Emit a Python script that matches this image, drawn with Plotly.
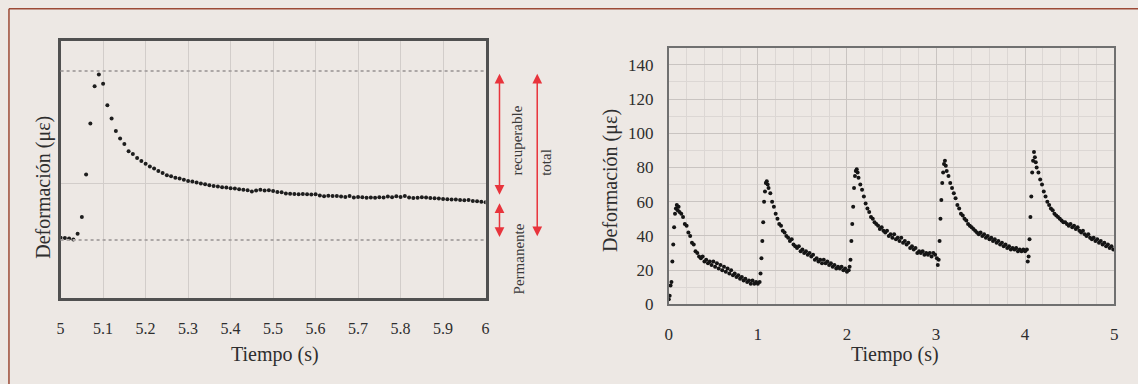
import plotly.graph_objects as go

# ---------------- Left chart data (zoom on one load cycle) ----------------
left_time = [5.00, 5.01, 5.02, 5.03, 5.04, 5.05, 5.06, 5.07, 5.08, 5.09,
             5.10, 5.11, 5.12, 5.13, 5.14, 5.15, 5.16, 5.17, 5.18, 5.19,
             5.20, 5.21, 5.22, 5.23, 5.24, 5.25, 5.26, 5.27, 5.28, 5.29,
             5.30, 5.31, 5.32, 5.33, 5.34, 5.35, 5.36, 5.37, 5.38, 5.39,
             5.40, 5.41, 5.42, 5.43, 5.44, 5.45, 5.46, 5.47, 5.48, 5.49,
             5.50, 5.51, 5.52, 5.53, 5.54, 5.55, 5.56, 5.57, 5.58, 5.59,
             5.60, 5.61, 5.62, 5.63, 5.64, 5.65, 5.66, 5.67, 5.68, 5.69,
             5.70, 5.71, 5.72, 5.73, 5.74, 5.75, 5.76, 5.77, 5.78, 5.79,
             5.80, 5.81, 5.82, 5.83, 5.84, 5.85, 5.86, 5.87, 5.88, 5.89,
             5.90, 5.91, 5.92, 5.93, 5.94, 5.95, 5.96, 5.97, 5.98, 5.99, 6.00]
left_strain = [21.1, 21.0, 20.8, 20.5, 22.5, 28.4, 43.2, 61.1, 74.1, 78.2,
               75.0, 67.5, 62.8, 58.5, 55.8, 53.9, 51.4, 50.4, 49.0, 48.0,
               47.0, 46.0, 45.3, 44.5, 43.8, 43.0, 42.6, 42.1, 41.8, 41.4,
               41.0, 40.8, 40.4, 40.1, 39.8, 39.5, 39.2, 39.0, 38.8, 38.7,
               38.4, 38.3, 38.1, 37.9, 37.7, 37.3, 37.6, 37.9, 37.6, 37.7,
               37.5, 37.1, 37.0, 36.6, 36.5, 36.4, 36.3, 36.4, 36.3, 36.2,
               36.3, 35.9, 35.6, 35.8, 35.7, 35.7, 35.5, 35.4, 35.7, 35.2,
               35.4, 35.3, 35.1, 35.2, 35.1, 35.3, 35.2, 35.5, 35.3, 35.6,
               35.4, 35.7, 35.2, 35.0, 35.1, 35.3, 35.2, 35.0, 34.9, 34.8,
               34.7, 34.6, 34.5, 34.5, 34.3, 34.2, 34.3, 34.0, 33.9, 33.7, 33.5]
left_xticks = [5.0, 5.1, 5.2, 5.3, 5.4, 5.5, 5.6, 5.7, 5.8, 5.9, 6.0]
left_xticklabels = ["5", "5.1", "5.2", "5.3", "5.4", "5.5", "5.6", "5.7", "5.8", "5.9", "6"]

# reference levels (left chart)
peak_level = 79.5
permanent_level = 20.3
arrow_top = 78.5
arrow_bottom = 20.8
recoverable_end = 35.6
permanent_top = 33.2
total_bottom = 21.1

# ---------------- Right chart data (five load cycles) ----------------
c1_t = [0.00, 0.01, 0.02, 0.03, 0.04, 0.05, 0.06, 0.07, 0.08, 0.09, 0.10, 0.11, 0.12,
        0.14, 0.16, 0.18, 0.20, 0.22, 0.24, 0.26, 0.28, 0.30, 0.32, 0.34, 0.36, 0.38,
        0.40, 0.42, 0.44, 0.46, 0.48, 0.50, 0.52, 0.54, 0.56, 0.58, 0.60, 0.62, 0.64,
        0.66, 0.68, 0.70, 0.72, 0.74, 0.76, 0.78, 0.80, 0.82, 0.84, 0.86, 0.88, 0.90,
        0.92, 0.94, 0.96, 0.98, 1.00]
c1_v = [3, 5, 11, 13, 25, 35, 45, 53, 56, 58, 55, 57, 54,
        53, 51, 47, 46, 42, 40, 36, 35, 31, 30, 28, 27, 28,
        25, 26, 24, 25, 23, 25, 22, 24, 21, 23, 20, 22, 19,
        21, 18, 20, 17, 18, 16, 17, 15, 16, 14, 15, 13, 14,
        12, 14, 12, 13, 12]

c2_t = [1.02, 1.03, 1.04, 1.05, 1.06, 1.07, 1.08, 1.09, 1.10, 1.11, 1.12,
        1.14, 1.16, 1.18, 1.20, 1.22, 1.24, 1.26, 1.28, 1.30, 1.32, 1.34, 1.36,
        1.38, 1.40, 1.42, 1.44, 1.46, 1.48, 1.50, 1.52, 1.54, 1.56, 1.58, 1.60,
        1.62, 1.64, 1.66, 1.68, 1.70, 1.72, 1.74, 1.76, 1.78, 1.80, 1.82, 1.84,
        1.86, 1.88, 1.90, 1.92, 1.94, 1.96, 1.98, 2.00, 2.02]
c2_v = [13, 18, 27, 37, 48, 60, 66, 71, 72, 70, 68,
        65, 60, 57, 53, 50, 47, 46, 43, 42, 40, 39, 37,
        38, 35, 34, 33, 34, 31, 32, 30, 31, 29, 30, 28,
        29, 26, 27, 25, 26, 24, 26, 24, 25, 23, 24, 22,
        23, 21, 22, 21, 22, 20, 21, 19, 20]

c3_t = [2.03, 2.04, 2.05, 2.06, 2.07, 2.08, 2.09, 2.10, 2.11, 2.12, 2.13,
        2.15, 2.17, 2.19, 2.21, 2.23, 2.25, 2.27, 2.29, 2.31, 2.33, 2.35, 2.37,
        2.39, 2.41, 2.43, 2.45, 2.47, 2.49, 2.51, 2.53, 2.55, 2.57, 2.59, 2.61,
        2.63, 2.65, 2.67, 2.69, 2.71, 2.73, 2.75, 2.77, 2.79, 2.81, 2.83, 2.85,
        2.87, 2.89, 2.91, 2.93, 2.95, 2.97, 2.99, 3.01]
c3_v = [22, 26, 37, 47, 57, 68, 75, 78, 79, 77, 74,
        70, 67, 63, 59, 56, 54, 51, 50, 48, 47, 46, 44,
        45, 43, 42, 43, 40, 41, 39, 41, 38, 39, 37, 39,
        36, 37, 35, 36, 33, 34, 32, 33, 30, 31, 30, 31,
        29, 30, 29, 30, 28, 30, 29, 27]

c4_t = [3.02, 3.03, 3.04, 3.05, 3.06, 3.07, 3.08, 3.09, 3.10, 3.11, 3.12,
        3.14, 3.16, 3.18, 3.20, 3.22, 3.24, 3.26, 3.28, 3.30, 3.32, 3.34, 3.36,
        3.38, 3.40, 3.42, 3.44, 3.46, 3.48, 3.50, 3.52, 3.54, 3.56, 3.58, 3.60,
        3.62, 3.64, 3.66, 3.68, 3.70, 3.72, 3.74, 3.76, 3.78, 3.80, 3.82, 3.84,
        3.86, 3.88, 3.90, 3.92, 3.94, 3.96, 3.98, 4.00, 4.02]
c4_v = [23, 26, 37, 50, 61, 71, 77, 82, 84, 81, 78,
        75, 71, 68, 65, 62, 58, 56, 53, 52, 50, 49, 47,
        46, 45, 44, 43, 42, 41, 42, 40, 41, 39, 40, 38,
        39, 37, 38, 36, 37, 35, 36, 34, 35, 33, 34, 32,
        33, 32, 33, 31, 32, 31, 32, 31, 32]

c5_t = [4.03, 4.04, 4.05, 4.06, 4.07, 4.08, 4.09, 4.10, 4.11, 4.12, 4.13,
        4.15, 4.17, 4.19, 4.21, 4.23, 4.25, 4.27, 4.29, 4.31, 4.33, 4.35, 4.37,
        4.39, 4.41, 4.43, 4.45, 4.47, 4.49, 4.51, 4.53, 4.55, 4.57, 4.59, 4.61,
        4.63, 4.65, 4.67, 4.69, 4.71, 4.73, 4.75, 4.77, 4.79, 4.81, 4.83, 4.85,
        4.87, 4.89, 4.91, 4.93, 4.95, 4.97, 4.99]
c5_v = [25, 28, 38, 51, 63, 77, 84, 89, 86, 83, 80,
        77, 73, 70, 66, 63, 60, 58, 56, 55, 53, 52, 51,
        50, 49, 48, 48, 47, 46, 47, 45, 46, 44, 45, 43,
        42, 43, 41, 40, 41, 39, 38, 39, 37, 38, 36, 37,
        35, 36, 34, 35, 33, 34, 32]

right_xticks = [0, 1, 2, 3, 4, 5]
right_yticks = [0, 20, 40, 60, 80, 100, 120, 140]

# ---------------- Figure ----------------
W, H = 1138, 384
BG = "#ede8e4"
SERIF = "Liberation Serif"
TXT = "#2e2e2e"
RED = "#e8343c"


def px(x):
    return x / W


def py(y):
    return 1 - y / H


right_t = c1_t + c2_t + c3_t + c4_t + c5_t
right_v = c1_v + c2_v + c3_v + c4_v + c5_v

fig = go.Figure()
fig.add_trace(go.Scatter(x=left_time, y=left_strain, mode="markers",
                         marker=dict(size=4, color="#1e1e1e"),
                         xaxis="x", yaxis="y", showlegend=False))
fig.add_trace(go.Scatter(x=right_t, y=right_v, mode="markers",
                         marker=dict(size=4, color="#151515"),
                         xaxis="x2", yaxis="y2", showlegend=False))

fig.update_layout(
    width=W, height=H,
    margin=dict(l=0, r=0, t=0, b=0),
    paper_bgcolor=BG, plot_bgcolor=BG,
    font=dict(family=SERIF, color=TXT),
    xaxis=dict(domain=[px(57), px(485)], range=[5, 6], tickvals=left_xticks,
               ticktext=left_xticklabels, showgrid=True, gridcolor="#d2cdca", gridwidth=1,
               showline=True, mirror=True, linecolor="#505050", linewidth=2.5,
               zeroline=False, ticks="", ticklabelstandoff=14,
               tickfont=dict(family=SERIF, size=16, color=TXT), anchor="y"),
    yaxis=dict(domain=[py(306), py(42)], range=[0, 90], tickvals=[40],
               showticklabels=False, showgrid=True, gridcolor="#d2cdca", gridwidth=1,
               showline=True, mirror=True, linecolor="#505050", linewidth=2.5,
               zeroline=False, ticks="", anchor="x"),
    xaxis2=dict(domain=[px(669.5), px(1118)], range=[0, 5], tickvals=right_xticks,
                showgrid=True, gridcolor="#c9c4c1", gridwidth=1,
                minor=dict(dtick=0.2, showgrid=True, gridcolor="#dcd7d4", gridwidth=1),
                showline=True, mirror=True, linecolor="#707070", linewidth=2,
                zeroline=False, ticks="", ticklabelstandoff=13,
                tickfont=dict(family=SERIF, size=17, color=TXT), anchor="y2"),
    yaxis2=dict(domain=[py(312.5), py(49)], range=[0, 150], tickvals=right_yticks,
                showgrid=True, gridcolor="#c9c4c1", gridwidth=1,
                minor=dict(dtick=10, showgrid=True, gridcolor="#dcd7d4", gridwidth=1),
                showline=True, mirror=True, linecolor="#707070", linewidth=2,
                zeroline=False, ticks="", ticklabelstandoff=10,
                tickfont=dict(family=SERIF, size=17, color=TXT), anchor="x2"),
)

# dotted reference lines on the left chart
for lvl in (peak_level, permanent_level):
    fig.add_shape(type="line", xref="x domain", yref="y", x0=0, x1=1, y0=lvl, y1=lvl,
                  line=dict(color="#aca7a6", width=2, dash="dot"))

# outer brown frame (top and left)
fig.add_shape(type="line", xref="paper", yref="paper", x0=px(5), x1=1.02, y0=py(9), y1=py(9),
              line=dict(color="#9c4a36", width=1.5))
fig.add_shape(type="line", xref="paper", yref="paper", x0=px(5), x1=px(5), y0=py(9), y1=-0.05,
              line=dict(color="#9c4a36", width=1.5))

# red double-headed arrows
arrows = [
    (499, arrow_top, recoverable_end),
    (499, permanent_top, arrow_bottom),
    (537, arrow_top, total_bottom),
]
for xp, ytop, ybot in arrows:
    fig.add_annotation(xref="paper", x=px(xp), yref="y", y=ytop,
                       axref="pixel", ax=0, ayref="y", ay=ybot,
                       text="", showarrow=True, arrowside="end+start",
                       arrowhead=2, arrowsize=1.3, arrowwidth=1.5, arrowcolor=RED)

labels = [
    ("recuperable", 517, 144),
    ("total", 545, 167),
    ("Permanente", 519, 266),
]
for txt, xp, yp in labels:
    fig.add_annotation(xref="paper", yref="paper", x=px(xp), y=py(yp), text=txt,
                       xanchor="center", yanchor="middle",
                       showarrow=False, textangle=-90,
                       font=dict(family=SERIF, size=15, color="#3a3a3a"))

titles = [
    ("Tiempo (s)", 272.5, 364, 0),
    ("Deformación (με)", 39, 192, -90),
    ("Tiempo (s)", 897.5, 364, 0),
    ("Deformación (με)", 610, 185, -90),
]
for txt, xp, yp, ang in titles:
    fig.add_annotation(xref="paper", yref="paper", x=px(xp), y=py(yp), text=txt,
                       xanchor="center", yanchor="middle",
                       showarrow=False, textangle=ang,
                       font=dict(family=SERIF, size=20, color=TXT))

fig.write_html("out.html")
